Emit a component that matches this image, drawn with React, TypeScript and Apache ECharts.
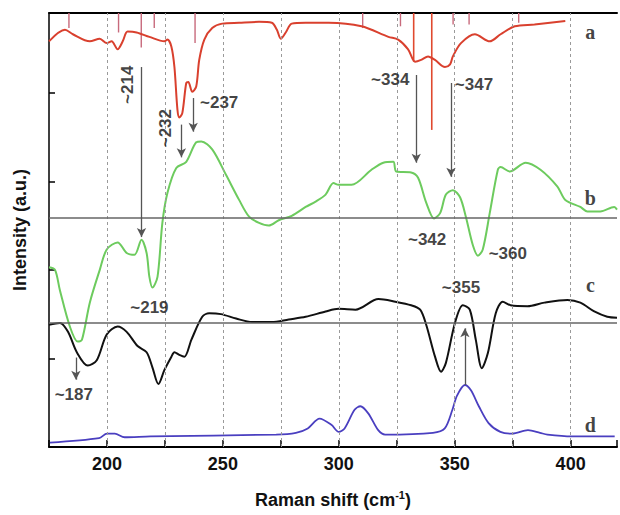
import React, { useEffect, useRef } from "react";
import * as echarts from "echarts";

// Raman spectra (x: Raman shift cm-1, y: arbitrary stacked intensity)
const specA: [number, number][] = [
  [175, 4.58], [181.9, 4.71], [185.3, 4.66], [192.6, 4.58], [196.9, 4.61], [199.9, 4.56],
  [202, 4.58], [204.6, 4.49], [206.8, 4.58], [208.9, 4.69], [212.8, 4.68], [218.3, 4.63],
  [224.8, 4.58], [226.1, 4.6], [227.8, 4.52], [229.1, 4.29], [230.4, 3.81], [231.2, 3.72],
  [232.5, 3.77], [234.2, 4.11], [235.1, 4.12], [236.8, 4.01], [238.5, 4.07], [239.8, 4.37],
  [242, 4.6], [245.4, 4.73], [249.7, 4.78], [257, 4.79], [265.6, 4.8], [271.1, 4.79],
  [273.3, 4.71], [275, 4.61], [277.1, 4.68], [279.7, 4.78], [285.7, 4.79], [295.6, 4.79],
  [309.8, 4.75], [321.4, 4.63], [325.6, 4.6], [329.9, 4.49], [332.9, 4.35], [335.5, 4.37],
  [338.5, 4.41], [341.5, 4.37], [345.8, 4.29], [348, 4.32], [349.2, 4.41], [352.7, 4.56],
  [358.7, 4.66], [365.1, 4.58], [369.8, 4.66], [375.9, 4.75], [384.4, 4.77], [397.7, 4.81],
];

const specB: [number, number][] = [
  [175, 2.03], [177.6, 2.0], [179.7, 1.77], [184, 1.36], [187.4, 1.19], [189.2, 1.21],
  [192.6, 1.63], [196.9, 2.0], [199.9, 2.23], [204.6, 2.31], [208.5, 2.19], [211.9, 2.17],
  [214.9, 2.34], [217.1, 2.19], [218.3, 1.92], [219.6, 1.8], [221.8, 1.92], [223.9, 2.53],
  [226.1, 2.87], [229.9, 3.15], [234.2, 3.22], [238.5, 3.44], [240.7, 3.45], [245.4, 3.36],
  [251.4, 3.07], [257, 2.79], [261.3, 2.6], [265.6, 2.53], [269.8, 2.5], [274.1, 2.56],
  [279.7, 2.61], [285.7, 2.71], [290, 2.77], [294.3, 2.85], [297.7, 2.98], [299.9, 2.96],
  [305.5, 2.96], [314.1, 3.13], [319.2, 3.21], [323.5, 3.22], [324.8, 3.11], [331.2, 3.1],
  [334.2, 3.04], [337.7, 2.76], [341.1, 2.58], [343.7, 2.64], [346.2, 2.85], [349.2, 2.9],
  [352.3, 2.82], [354.8, 2.6], [357.8, 2.28], [360, 2.16], [362.1, 2.23], [365.1, 2.64],
  [368.6, 3.13], [369.8, 3.16], [373.7, 3.11], [380.6, 3.21], [387, 3.13], [394.3, 2.94],
  [397.7, 2.79], [404.2, 2.71], [407.2, 2.66], [412.8, 2.66], [418.8, 2.71], [420, 2.68],
];

const specC: [number, number][] = [
  [175, 1.38], [179.7, 1.4], [183.2, 1.3], [187, 1.07], [191.7, 0.92], [195.6, 0.98],
  [199.9, 1.27], [204.6, 1.36], [208.5, 1.3], [213.2, 1.14], [217.1, 1.07], [219.6, 0.9],
  [222.2, 0.71], [224.8, 0.87], [227.8, 1.02], [229.1, 1.07], [231.2, 1.04], [233.4, 1.02],
  [236.4, 1.21], [241.1, 1.47], [244.1, 1.51], [249.2, 1.5], [255.7, 1.45], [262.6, 1.41],
  [271.1, 1.41], [278.4, 1.44], [285.7, 1.47], [294.3, 1.53], [299.9, 1.56], [307.2, 1.55],
  [317.1, 1.67], [324.4, 1.64], [331.2, 1.6], [335.1, 1.55], [337.7, 1.38], [341.5, 1.02],
  [344.1, 0.85], [346.2, 0.95], [350.1, 1.4], [353.5, 1.6], [356.5, 1.55], [359.1, 1.21],
  [361.7, 0.89], [364.3, 1.06], [367.7, 1.51], [370.7, 1.64], [374.1, 1.6], [381.4, 1.59],
  [388.7, 1.63], [398.6, 1.66], [404.2, 1.63], [410.2, 1.53], [415.8, 1.47], [420, 1.46],
];

const specD: [number, number][] = [
  [175.4, 0.05], [196.6, 0.1], [200, 0.15], [203.4, 0.15], [207.6, 0.11], [218.7, 0.12],
  [273, 0.14], [281.5, 0.16], [286.6, 0.21], [291.7, 0.32], [296.8, 0.25], [300, 0.17],
  [302.5, 0.21], [306.8, 0.42], [309.3, 0.46], [312.7, 0.38], [317, 0.19], [320, 0.14],
  [340.6, 0.16], [345.7, 0.21], [349, 0.42], [351, 0.58], [354.4, 0.7], [357, 0.64],
  [360.4, 0.46], [364.6, 0.27], [369.7, 0.17], [374.8, 0.15], [381.6, 0.19], [386.8, 0.16],
  [390, 0.14], [400.5, 0.12], [419, 0.12],
];

// reference stick spectrum hanging from the top: [shift, length]
const stickShifts = [183.6, 205, 214.8, 220.4, 238, 310.3, 326.6, 332.3, 340.1, 349.3, 356.2, 377.6];
const stickLengths = [0.17, 0.22, 0.39, 0.17, 0.34, 0.17, 0.15, 0.55, 1.32, 0.13, 0.13, 0.11];

const gridShifts = [200, 225, 250, 275, 300, 325, 350, 375, 400];
const baselineB = 2.59;
const baselineC = 1.4;

// arrows: [shift, yFrom, yTo]
const arrows: [number, number, number][] = [
  [214.9, 4.29, 2.37],
  [232.1, 3.64, 3.27],
  [237.2, 3.94, 3.56],
  [333.4, 4.2, 3.21],
  [348.4, 4.11, 3.05],
  [186.6, 1.01, 0.76],
  [354.4, 0.7, 1.34],
];

// peak labels: [text, shift, y, rotation]
const peakLabels: [string, number, number, number][] = [
  ["~214", 208.9, 4.09, 90],
  ["~232", 225.2, 3.6, 90],
  ["~237", 248.4, 3.89, 0],
  ["~334", 322.2, 4.15, 0],
  ["~347", 358.3, 4.09, 0],
  ["~342", 338.1, 2.34, 0],
  ["~360", 372.9, 2.18, 0],
  ["~219", 218.3, 1.57, 0],
  ["~187", 185.7, 0.59, 0],
  ["~355", 352.7, 1.8, 0],
];

const curveLetters: [string, number, number][] = [
  ["a", 408.5, 4.69],
  ["b", 408.5, 2.81],
  ["c", 408.5, 1.83],
  ["d", 408.5, 0.25],
];

const X_MIN = 175;
const X_MAX = 420;
const Y_MAX = 4.9;

export default function App() {
  const ref = useRef<HTMLDivElement>(null);

  useEffect(() => {
    if (!ref.current) return;
    const chart = echarts.init(ref.current, undefined, { renderer: "svg" });
    const sans = "Liberation Sans, Arial, sans-serif";

    const option: any = {
      animation: false,
      backgroundColor: "#ffffff",
      grid: { left: 49, right: 2, top: 13, bottom: 68 },
      xAxis: [
        {
          type: "value",
          min: X_MIN,
          max: X_MAX,
          interval: 25,
          axisLine: { show: true, lineStyle: { color: "#000", width: 2 } },
          axisTick: { show: true, inside: true, length: 7, lineStyle: { color: "#000", width: 1.5 } },
          axisLabel: {
            formatter: (v: number) => (v % 50 === 0 ? String(v) : ""),
            color: "#111",
            fontFamily: sans,
            fontWeight: "bold",
            fontSize: 18,
            margin: 8,
          },
          splitLine: { show: false },
          name: "Raman shift (cm{sup|-1})",
          nameLocation: "middle",
          nameGap: 42,
          nameTextStyle: {
            color: "#111",
            fontFamily: sans,
            fontWeight: "bold",
            fontSize: 18,
            rich: {
              sup: { fontSize: 11, fontWeight: "bold", fontFamily: sans, verticalAlign: "top", padding: [0, 0, 10, 0] },
            },
          },
        },
        {
          type: "value",
          position: "top",
          min: X_MIN,
          max: X_MAX,
          axisLine: { show: true, lineStyle: { color: "#000", width: 2 } },
          axisTick: { show: false },
          axisLabel: { show: false },
          splitLine: { show: false },
        },
      ],
      yAxis: {
        type: "value",
        min: 0,
        max: Y_MAX,
        interval: 1,
        axisLine: { show: true, lineStyle: { color: "#000", width: 1.5 } },
        axisTick: { show: true, inside: true, length: 6, lineStyle: { color: "#000", width: 1.5 } },
        axisLabel: { show: false },
        splitLine: { show: false },
        name: "Intensity (a.u.)",
        nameLocation: "middle",
        nameGap: 20,
        nameTextStyle: { color: "#111", fontFamily: sans, fontWeight: "bold", fontSize: 18 },
      },
      series: [
        {
          type: "line",
          name: "grid",
          data: [],
          silent: true,
          markLine: {
            silent: true,
            symbol: ["none", "none"],
            label: { show: false },
            lineStyle: { color: "#9a9a9a", width: 1, type: [3, 3] },
            data: gridShifts.map((s) => ({ xAxis: s })),
          },
        },
        {
          type: "line",
          name: "baselines",
          data: [],
          silent: true,
          markLine: {
            silent: true,
            symbol: ["none", "none"],
            label: { show: false },
            lineStyle: { color: "#666", width: 1.6, type: "solid" },
            data: [{ yAxis: baselineB }, { yAxis: baselineC }],
          },
        },
        {
          type: "custom",
          name: "sticks",
          silent: true,
          data: stickShifts.map((s, i) => [s, stickLengths[i]]),
          renderItem: (params: any, api: any) => {
            const x = api.value(0);
            const l = api.value(1);
            const p0 = api.coord([x, Y_MAX]);
            const p1 = api.coord([x, Y_MAX - l]);
            const strong = l > 0.5;
            return {
              type: "line",
              shape: { x1: p0[0], y1: p0[1], x2: p1[0], y2: p1[1] },
              style: { stroke: strong ? "#e0492f" : "#c86a7c", lineWidth: strong ? 1.6 : 1.4 },
            };
          },
        },
        {
          type: "line",
          name: "a",
          data: specA,
          smooth: 0.3,
          showSymbol: false,
          lineStyle: { color: "#d9402e", width: 2 },
        },
        {
          type: "line",
          name: "b",
          data: specB,
          smooth: 0.3,
          showSymbol: false,
          lineStyle: { color: "#6dcb5e", width: 2 },
        },
        {
          type: "line",
          name: "c",
          data: specC,
          smooth: 0.3,
          showSymbol: false,
          lineStyle: { color: "#111", width: 2 },
        },
        {
          type: "line",
          name: "d",
          data: specD,
          smooth: 0.3,
          showSymbol: false,
          lineStyle: { color: "#4a3fc0", width: 1.8 },
        },
        {
          type: "line",
          name: "arrows",
          data: [],
          silent: true,
          z: 5,
          markLine: {
            silent: true,
            label: { show: false },
            lineStyle: { color: "#555", width: 1.3, type: "solid" },
            symbolSize: [7, 9],
            data: arrows.map(([x, y1, y2]) => [
              { coord: [x, y1], symbol: "none" },
              { coord: [x, y2], symbol: "arrow" },
            ]),
          },
        },
        {
          type: "scatter",
          name: "peakLabels",
          silent: true,
          symbolSize: 0,
          z: 6,
          data: peakLabels.map(([t, x, y, r]) => ({
            value: [x, y],
            label: {
              show: true,
              formatter: t,
              rotate: r,
              position: "inside",
              color: "#111",
              fontFamily: sans,
              fontWeight: "bold",
              fontSize: 17,
            },
          })),
        },
        {
          type: "scatter",
          name: "letters",
          silent: true,
          symbolSize: 0,
          z: 6,
          data: curveLetters.map(([t, x, y]) => ({
            value: [x, y],
            label: {
              show: true,
              formatter: t,
              position: "inside",
              color: "#111",
              fontFamily: "Liberation Serif, serif",
              fontWeight: "bold",
              fontSize: 20,
            },
          })),
        },
      ],
    };

    chart.setOption(option);
    return () => chart.dispose();
  }, []);

  return (
    <div
      ref={ref}
      style={{ position: "fixed", left: 0, top: 0, width: 620, height: 515, background: "#fff" }}
    />
  );
}
